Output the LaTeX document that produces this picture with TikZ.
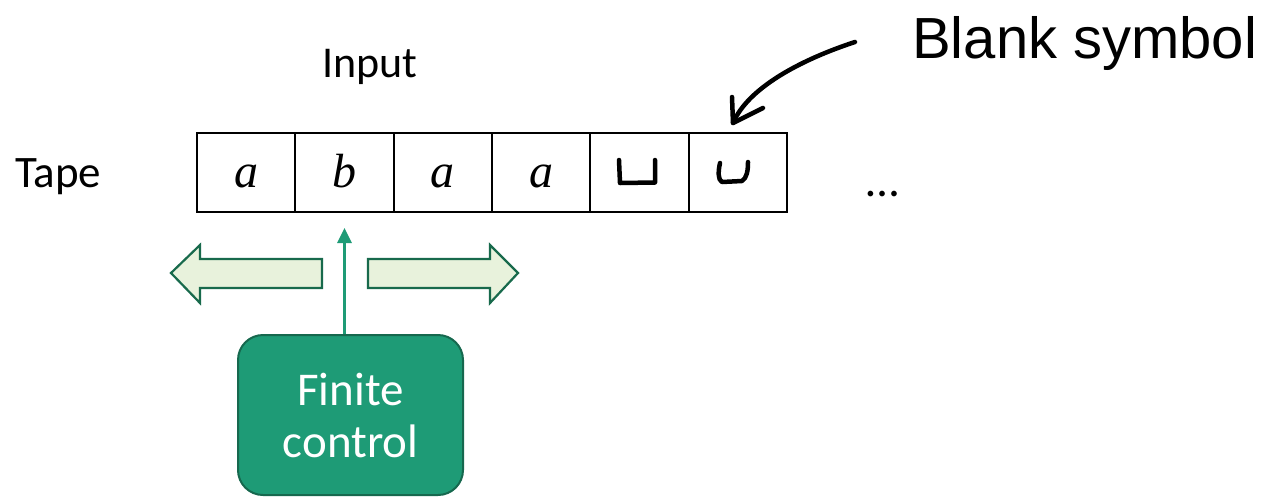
\documentclass[tikz,border=0pt]{standalone}
\usepackage{fontspec}
\setmainfont{Carlito}
\newfontfamily\handfont{Liberation Sans}
\newfontfamily\symfont{Liberation Serif}
\usetikzlibrary{arrows.meta}
\definecolor{fcfill}{RGB}{30,155,118}
\definecolor{fcdraw}{RGB}{22,104,78}
\definecolor{barfill}{RGB}{232,242,220}
\definecolor{bardraw}{RGB}{24,106,76}
\tikzset{
  cell/.style={draw=black, line width=2pt, minimum width=98.33pt, minimum height=79pt, inner sep=0pt, outer sep=0pt},
  sym/.style={inner sep=0pt, anchor=base, font=\symfont\itshape\fontsize{48}{56}\selectfont},
  lbl/.style={inner sep=0pt, font=\fontsize{45}{54}\selectfont},
  fcbox/.style={draw=fcdraw, fill=fcfill, line width=2pt, rounded corners=25pt, minimum width=225pt, minimum height=160pt, text=white, align=center, font=\fontsize{47}{56}\selectfont},
  bar/.style={draw=bardraw, fill=barfill, line width=2.2pt, line join=miter},
  pen/.style={line width=4.5pt, line cap=round, line join=round, black},
}
\begin{document}
\begin{tikzpicture}[x=1pt,y=-1pt]
\useasboundingbox (0,0) rectangle (1274,496);
% tape cells
\foreach \i in {1,...,6}{
  \node[cell] (c\i) at ({197+98.33*(\i-0.5)},172.5) {};
}
\foreach \i/\t in {1/a,2/b,3/a,4/a}{
  \node[sym] (s\i) at (c\i.center |- 0,187) {\t};
}
% blank symbols
\draw[pen] (619,160) -- (620,183) -- (655,182.5) -- (655,160);
\draw[pen] (720,163) .. controls (718,172) and (718,180) .. (722,182) -- (742,181) .. controls (747,178) and (748,170) .. (748,162);
% labels
\node[lbl, anchor=base west] (tape) at (15,187) {Tape};
\node[lbl, anchor=base, font=\fontsize{44}{52}\selectfont] (input) at (370,77) {Input};
\node[lbl, anchor=base west, font=\fontsize{47}{56}\selectfont] (dots) at (866,196) {\ldots};
% finite control
\node[fcbox] (fc) at (350.5,415) {Finite\\[-4pt]control};
\coordinate (head) at (c2.south |- 0,228);
\draw[fcfill, line width=3pt, -{Triangle[width=14pt,length=15pt]}] (c2.south |- fc.north) -- (head);
% move arrows
\draw[bar] (322,259) -- (200,259) -- (200,245) -- (171,273) -- (200,303) -- (200,288) -- (322,288) -- cycle;
\draw[bar] (368,259) -- (490,259) -- (490,245) -- (518,273) -- (490,303) -- (490,288) -- (368,288) -- cycle;
% handwritten note
\node[inner sep=0pt, anchor=base west, font=\handfont\fontsize{58}{64}\selectfont] (blank) at (912,58) {Blank symbol};
\coordinate (pstart) at (855,42);
\draw[pen] (pstart) .. controls (800,60) and (748,88) .. (733,123);
\draw[pen] (732,97) -- (733,123) -- (763,108);
\end{tikzpicture}
\end{document}
